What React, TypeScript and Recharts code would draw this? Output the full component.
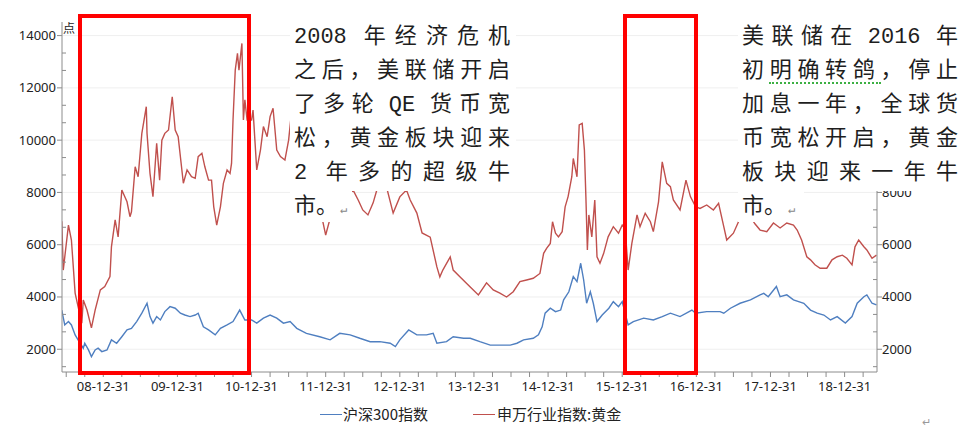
import React from "react";
import { LineChart, Line, XAxis, YAxis, ReferenceLine } from "recharts";

// 申万行业指数:黄金 (decimal year, points)
const goldYears = [
  2008.44, 2008.46, 2008.53, 2008.57, 2008.62, 2008.66, 2008.71, 2008.73, 2008.78, 2008.84,
  2008.89, 2008.96, 2009.02, 2009.09, 2009.11, 2009.16, 2009.2, 2009.25, 2009.32, 2009.36,
  2009.38, 2009.43, 2009.47, 2009.52, 2009.58, 2009.59, 2009.63, 2009.67, 2009.72, 2009.76,
  2009.79, 2009.83, 2009.88, 2009.93, 2009.97, 2010.01, 2010.08, 2010.13, 2010.19, 2010.24,
  2010.28, 2010.33, 2010.37, 2010.42, 2010.46, 2010.49, 2010.53, 2010.58, 2010.62, 2010.67,
  2010.71, 2010.73, 2010.75, 2010.78, 2010.81, 2010.83, 2010.87, 2010.89, 2010.91, 2010.94,
  2011.0, 2011.02, 2011.07, 2011.12, 2011.16, 2011.21, 2011.25, 2011.29, 2011.34, 2011.39,
  2011.45, 2011.5, 2011.54, 2011.59, 2011.65, 2011.72, 2011.79, 2011.86, 2011.92, 2011.96,
  2012.0, 2012.05, 2012.13, 2012.19, 2012.26, 2012.33, 2012.37, 2012.44, 2012.5, 2012.57,
  2012.64, 2012.69, 2012.76, 2012.83, 2012.91, 2013.0, 2013.09, 2013.14, 2013.23, 2013.3,
  2013.41, 2013.5, 2013.54, 2013.58, 2013.68, 2013.72, 2013.81, 2013.95, 2014.06, 2014.17,
  2014.26, 2014.35, 2014.44, 2014.53, 2014.62, 2014.71, 2014.8, 2014.89, 2014.94, 2014.98,
  2015.03, 2015.06, 2015.1, 2015.14, 2015.19, 2015.23, 2015.27, 2015.32, 2015.34, 2015.39,
  2015.42, 2015.46, 2015.49, 2015.51, 2015.53, 2015.55, 2015.59, 2015.63, 2015.66, 2015.7,
  2015.75, 2015.81, 2015.88, 2015.95, 2016.0, 2016.04, 2016.08, 2016.13, 2016.2, 2016.24,
  2016.31, 2016.38, 2016.42, 2016.49, 2016.54, 2016.6, 2016.65, 2016.69, 2016.78, 2016.86,
  2016.92, 2016.99, 2017.05, 2017.14, 2017.23, 2017.3, 2017.37, 2017.41, 2017.5, 2017.59,
  2017.7, 2017.79, 2017.86, 2017.95, 2018.04, 2018.13, 2018.22, 2018.31, 2018.36, 2018.42,
  2018.49, 2018.54, 2018.6, 2018.67, 2018.76, 2018.83, 2018.9, 2018.97, 2019.03, 2019.1,
  2019.14, 2019.19, 2019.26, 2019.3, 2019.37, 2019.43,
];
const goldIndex = [
  6900, 5030, 6750, 6180, 4150, 3630, 3000, 3880, 3500, 2820,
  3500, 4270, 4400, 4780, 5920, 6950, 6300, 8090, 7640, 7070,
  7260, 8980, 8600, 10260, 11280, 10260, 8730, 7840, 9880, 8470,
  10000, 10260, 10390, 11660, 10390, 10130, 8350, 8860, 8600, 8540,
  9370, 9500, 8980, 8470, 8470, 7450, 6750, 7450, 8350, 8860,
  8730, 9110, 10770, 12680, 13320, 12680, 13700, 10770, 11540, 10770,
  10770, 11150, 8860, 9620, 10520, 10130, 10900, 11220, 9620, 9370,
  9240, 10000, 11090, 10400, 9500, 10000, 9000, 8400, 7600, 6900,
  6370, 6900, 8100, 8500, 8200, 8000, 8090, 7700, 7330, 7140,
  7600, 8090, 8600, 8100, 7210, 7830, 8090, 7710, 7210, 6450,
  6290, 5150, 4770, 5030, 5530, 5030, 4770, 4380, 4080, 4540,
  4270, 4150, 4000, 4200, 4590, 4650, 4715, 4900, 5670, 5860,
  6050, 6880, 6440, 6300, 6500, 7450, 7840, 8600, 9300, 8600,
  10580, 10640, 9620, 7840, 5800, 7140, 6300, 7710, 5540, 5290,
  5670, 6300, 6690, 6440, 6750, 6600, 5030, 6050, 7140, 6690,
  7200, 6880, 6500, 7640, 9170, 8350, 8220, 7710, 7330, 8470,
  7840, 7450, 7390, 7520, 7330, 7580, 6690, 6180, 6440, 7010,
  7200, 6800, 6560, 6500, 6830, 6640, 6830, 6750, 6560, 6180,
  5540, 5420, 5230, 5100, 5100, 5420, 5540, 5600, 5480, 5230,
  5920, 6180, 5920, 5800, 5480, 5600,
];

// 沪深300指数
const hsYears = [
  2008.44, 2008.48, 2008.53, 2008.57, 2008.62, 2008.66, 2008.73, 2008.75, 2008.8, 2008.84,
  2008.89, 2008.93, 2008.98, 2009.05, 2009.11, 2009.18, 2009.25, 2009.32, 2009.38, 2009.45,
  2009.52, 2009.59, 2009.63, 2009.67, 2009.72, 2009.77, 2009.83, 2009.9, 2009.97, 2010.04,
  2010.1, 2010.17, 2010.24, 2010.28, 2010.35, 2010.42, 2010.51, 2010.58, 2010.67, 2010.75,
  2010.84, 2010.91, 2011.0, 2011.07, 2011.16, 2011.25, 2011.34, 2011.43, 2011.52, 2011.61,
  2011.74, 2011.92, 2012.06, 2012.19, 2012.33, 2012.46, 2012.6, 2012.73, 2012.87, 2012.94,
  2013.0, 2013.12, 2013.23, 2013.36, 2013.45, 2013.5, 2013.63, 2013.72, 2013.86, 2013.95,
  2014.08, 2014.22, 2014.35, 2014.49, 2014.58, 2014.67, 2014.8, 2014.87, 2014.92, 2014.96,
  2015.03, 2015.1, 2015.17, 2015.21, 2015.28, 2015.34, 2015.39, 2015.44, 2015.48, 2015.52,
  2015.57, 2015.61, 2015.66, 2015.73, 2015.82, 2015.88, 2015.95, 2016.0, 2016.08, 2016.15,
  2016.29, 2016.42, 2016.54, 2016.65, 2016.78, 2016.94, 2016.99, 2017.14, 2017.32, 2017.37,
  2017.46, 2017.59, 2017.73, 2017.86, 2017.91, 2017.97, 2018.08, 2018.13, 2018.22, 2018.31,
  2018.45, 2018.54, 2018.63, 2018.72, 2018.81, 2018.9, 2019.01, 2019.1, 2019.17, 2019.26,
  2019.3, 2019.37, 2019.43,
];
const hs300 = [
  3500, 2930, 3060, 2930, 2550, 2360, 2040, 2230, 1975, 1720,
  1975, 2040, 1910, 1975, 2360, 2230, 2480, 2740, 2800, 3060,
  3380, 3760, 3250, 3000, 3250, 3120, 3440, 3630, 3570, 3380,
  3310, 3250, 3310, 3380, 2860, 2740, 2550, 2800, 2930, 3060,
  3500, 3120, 3120, 3000, 3190, 3310, 3190, 3000, 3060, 2800,
  2610, 2480, 2360, 2610, 2550, 2420, 2290, 2290, 2230, 2100,
  2360, 2740, 2550, 2550, 2610, 2230, 2290, 2480, 2420, 2420,
  2290, 2160, 2160, 2160, 2230, 2360, 2420, 2550, 2860, 3380,
  3570, 3440, 3500, 3890, 4200, 4780, 4590, 5290, 4650, 3760,
  4200, 3760, 3060, 3310, 3570, 3820, 3630, 3820, 2930, 3060,
  3190, 3120, 3250, 3380, 3250, 3500, 3380, 3440, 3440, 3380,
  3570, 3760, 3890, 4080, 4140, 4010, 4400, 4010, 4080, 3890,
  3760, 3500, 3380, 3310, 3120, 3250, 3000, 3250, 3760, 4010,
  4080, 3760, 3700,
];

const yearEnds = [2009, 2010, 2011, 2012, 2013, 2014, 2015, 2016, 2017, 2018, 2019];
const yearLabels = ["08-12-31", "09-12-31", "10-12-31", "11-12-31", "12-12-31", "13-12-31",
  "14-12-31", "15-12-31", "16-12-31", "17-12-31", "18-12-31"];
const majorLevels = [2000, 4000, 6000, 8000, 10000, 12000, 14000];

const goldData = goldYears.map((t, i) => ({ t, v: goldIndex[i] }));
const hsData = hsYears.map((t, i) => ({ t, v: hs300[i] }));

const quarterTicks: number[] = [];
for (let q = 2008.5; q <= 2019.3; q += 0.25) quarterTicks.push(+q.toFixed(2));
const levelTicks: number[] = [];
for (let k = 2; k <= 21; k++) levelTicks.push((k * 2000) / 3);

const BLUE = "#4f7fc0";
const RED = "#c0504d";
const AXIS = "#8c8c8c";
const TICK_FONT = "'Noto Sans', 'Noto Sans CJK SC', sans-serif";
const NOTE_FONT = "'Liberation Mono', 'Noto Sans CJK SC', monospace";

const isMajor = (v: number) => Math.abs(v / 2000 - Math.round(v / 2000)) < 1e-6;

const xLabel = (t: number) => {
  const i = yearEnds.findIndex((y) => Math.abs(y - t) < 1e-6);
  return i >= 0 ? yearLabels[i] : "";
};

const LeftTick = (props: any) => {
  const { x, y, payload } = props;
  const v = payload.value;
  if (!isMajor(v)) return <line x1={x} x2={x + 4} y1={y} y2={y} stroke={AXIS} />;
  return (
    <g>
      <line x1={x - 5} x2={x} y1={y} y2={y} stroke={AXIS} />
      <text x={x - 6} y={y} dy={4.5} textAnchor="end" fontSize={13} fill="#222" fontFamily={TICK_FONT}>
        {Math.round(v)}
      </text>
    </g>
  );
};

// the note box covers the right axis above 8000, so only the lower labels show
const RightTick = (props: any) => {
  const { x, y, payload } = props;
  const v = payload.value;
  if (!isMajor(v)) return <line x1={x - 4} x2={x} y1={y} y2={y} stroke={AXIS} />;
  return (
    <g>
      <line x1={x} x2={x + 5} y1={y} y2={y} stroke={AXIS} />
      {v <= 8000 && (
        <text x={x + 5} y={y} dy={4.5} textAnchor="start" fontSize={13} fill="#222" fontFamily={TICK_FONT}>
          {Math.round(v)}
        </text>
      )}
    </g>
  );
};

const noteLeft = [
  ["2008", "年", "经", "济", "危", "机"],
  ["之", "后", "，", "美", "联", "储", "开", "启"],
  ["了", "多", "轮", "QE", "货", "币", "宽"],
  ["松", "，", "黄", "金", "板", "块", "迎", "来"],
  ["2", "年", "多", "的", "超", "级", "牛"],
];
const noteRight = [
  ["美", "联", "储", "在", "2016", "年"],
  ["初", "明", "确", "转", "鸽", "，", "停", "止"],
  ["加", "息", "一", "年", "，", "全", "球", "货"],
  ["币", "宽", "松", "开", "启", "，", "黄", "金"],
  ["板", "块", "迎", "来", "一", "年", "牛"],
];

const Note = ({ left, lines, tail }: { left: number; lines: string[][]; tail: number }) => (
  <>
    <div style={{ position: "absolute", left, top: 18, width: 226, height: 173, background: "#fff" }} />
    <div style={{ position: "absolute", left, top: 191, width: tail, height: 31, background: "#fff" }} />
    {lines.map((tokens, i) => (
      <div
        key={i}
        style={{
          position: "absolute", left: left + 4, top: 21 + i * 34, width: 216, height: 34,
          display: "flex", justifyContent: "space-between", alignItems: "center",
          fontFamily: NOTE_FONT, fontSize: 22, color: "#1e1e1e", lineHeight: "34px",
        }}
      >
        {tokens.map((tk, j) => {
          const latin = /[0-9A-Z]/.test(tk);
          return (
            <span
              key={j}
              style={{
                paddingLeft: latin && j > 0 ? 8 : 0,
                paddingRight: latin && j < tokens.length - 1 ? 8 : 0,
              }}
            >
              {tk}
            </span>
          );
        })}
      </div>
    ))}
    <div
      style={{
        position: "absolute", left: left + 4, top: 21 + 5 * 34, height: 34, lineHeight: "34px",
        fontFamily: NOTE_FONT, fontSize: 22, color: "#1e1e1e", whiteSpace: "nowrap",
      }}
    >
      市。<span style={{ fontSize: 12, color: "#888", marginLeft: 2 }}>↵</span>
    </div>
  </>
);

const Box = ({ left, width }: { left: number; width: number }) => (
  <div
    style={{
      position: "absolute", left, top: 14, width, height: 361,
      border: "4px solid #ff0000", boxSizing: "border-box",
    }}
  />
);

export default function App() {
  return (
    <div style={{ position: "absolute", left: 0, top: 0, width: 965, height: 431, background: "#fff", overflow: "hidden" }}>
      <LineChart width={965} height={431} margin={{ top: 22, right: 28, bottom: 0, left: 0 }}>
        <XAxis
          dataKey="t"
          type="number"
          domain={[2008.443, 2019.437]}
          allowDataOverflow
          ticks={quarterTicks}
          interval={0}
          tickFormatter={xLabel}
          height={59}
          stroke={AXIS}
          tickSize={5}
          tickMargin={5}
          tick={{ fontSize: 13, fill: "#222", fontFamily: TICK_FONT }}
        />
        <YAxis
          yAxisId="left"
          type="number"
          domain={[1130, 14520]}
          allowDataOverflow
          ticks={levelTicks}
          interval={0}
          width={62}
          stroke={AXIS}
          tickSize={0}
          tickMargin={0}
          tick={<LeftTick />}
        />
        <YAxis
          yAxisId="right"
          orientation="right"
          type="number"
          domain={[1130, 14520]}
          allowDataOverflow
          ticks={levelTicks}
          interval={0}
          width={60}
          stroke={AXIS}
          tickSize={0}
          tickMargin={0}
          tick={<RightTick />}
        />
        {majorLevels.map((lv) => (
          <ReferenceLine key={lv} yAxisId="left" y={lv} stroke="#efefef" strokeWidth={1} />
        ))}
        <Line
          yAxisId="right"
          data={hsData}
          dataKey="v"
          name="沪深300指数"
          type="linear"
          stroke={BLUE}
          strokeWidth={1.4}
          dot={false}
          isAnimationActive={false}
        />
        <Line
          yAxisId="left"
          data={goldData}
          dataKey="v"
          name="申万行业指数:黄金"
          type="linear"
          stroke={RED}
          strokeWidth={1.4}
          dot={false}
          isAnimationActive={false}
        />
      </LineChart>

      <div style={{ position: "absolute", left: 63, top: 19, fontSize: 12, color: "#222", fontFamily: "'Noto Sans CJK SC'" }}>点</div>

      <Box left={77.5} width={173.5} />
      <Box left={623} width={75} />

      <Note left={290} lines={noteLeft} tail={62} />
      <Note left={738} lines={noteRight} tail={66} />
      <div style={{ position: "absolute", left: 769, top: 82, width: 112, borderBottom: "2px dotted #3cb043" }} />

      <div
        style={{
          position: "absolute", left: 0, top: 403, width: 965, height: 22,
          fontFamily: "'Noto Sans CJK SC', sans-serif", fontSize: 15, color: "#222",
        }}
      >
        <div style={{ position: "absolute", left: 320, top: 11, width: 22, height: 0, borderTop: `1.5px solid ${BLUE}` }} />
        <div style={{ position: "absolute", left: 343, top: 0, lineHeight: "22px", whiteSpace: "nowrap" }}>沪深300指数</div>
        <div style={{ position: "absolute", left: 473, top: 11, width: 22, height: 0, borderTop: `1.5px solid ${RED}` }} />
        <div style={{ position: "absolute", left: 497, top: 0, lineHeight: "22px", whiteSpace: "nowrap" }}>申万行业指数:黄金</div>
      </div>
      <div style={{ position: "absolute", left: 922, top: 416, fontSize: 11, color: "#999" }}>↵</div>
    </div>
  );
}
